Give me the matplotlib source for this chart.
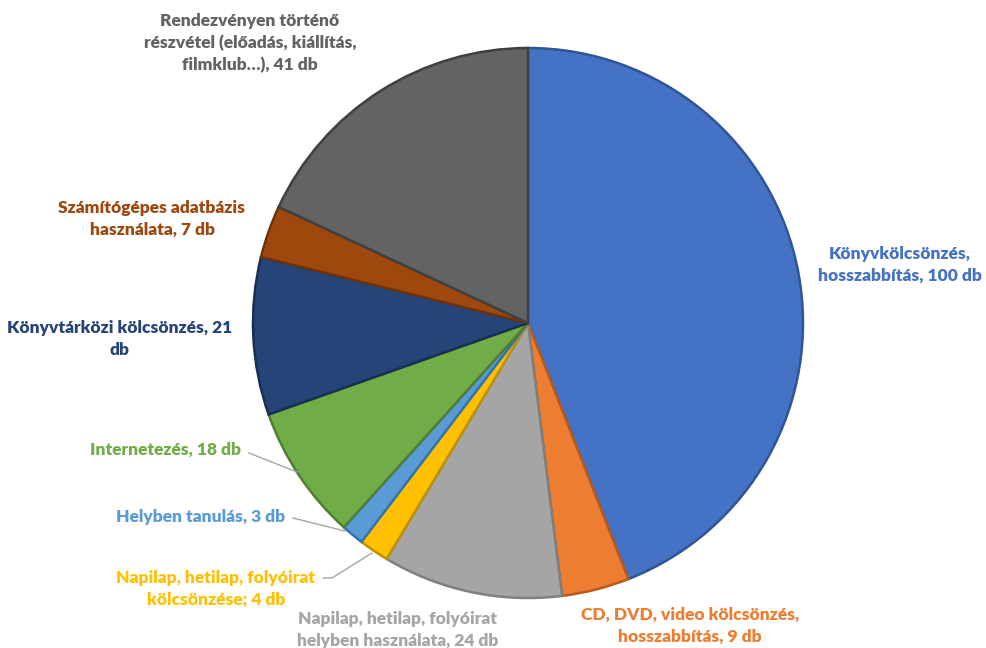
import matplotlib.pyplot as plt

# slice data (clockwise from 12 o'clock)
labels = [
    "Könyvkölcsönzés,\nhosszabbítás, 100 db",
    "CD, DVD, video kölcsönzés,\nhosszabbítás, 9 db",
    "Napilap, hetilap, folyóirat\nhelyben használata, 24 db",
    "Napilap, hetilap, folyóirat\nkölcsönzése; 4 db",
    "Helyben tanulás, 3 db",
    "Internetezés, 18 db",
    "Könyvtárközi kölcsönzés, 21\ndb",
    "Számítógépes adatbázis\nhasználata, 7 db",
    "Rendezvényen történő\nrészvétel (előadás, kiállítás,\nfilmklub…), 41 db",
]
values = [100, 9, 24, 4, 3, 18, 21, 7, 41]
colors = ["#4472C4", "#ED7D31", "#A5A5A5", "#FFC000", "#5B9BD5",
          "#70AD47", "#264478", "#9E480E", "#636363"]
edges = ["#2F5597", "#B85A1B", "#7F7F7F", "#BF9000", "#2E75B6",
         "#507E32", "#1A2F54", "#6E320A", "#404040"]

# label anchor points (pixel coords, from top-left)
label_pos = [(900, 265), (690, 626), (398, 630), (216, 589), (201, 517),
             (166, 450), (120, 339), (152, 219), (250, 43)]
leaders = {
    3: [(323, 578), (332, 578), (372, 553)],
    4: [(293, 518), (345, 531)],
    5: [(249, 453), (297, 472)],
}

plt.rcParams['font.family'] = ['Lato', 'DejaVu Sans']

W, H = 987, 648
fig = plt.figure(figsize=(W / 100, H / 100), dpi=100)
ax = fig.add_axes([0, 0, 1, 1])

cx, cy, r = 528, H - 323, 275
wedges, _ = ax.pie(values, colors=colors, startangle=90, counterclock=False,
                   center=(cx, cy), radius=r, frame=True,
                   wedgeprops=dict(linewidth=1.8))
for w, ec in zip(wedges, edges):
    w.set_edgecolor(ec)
ax.set_xlim(0, W)
ax.set_ylim(0, H)
ax.set_aspect('equal')
ax.axis('off')

for i, (txt, (x, y)) in enumerate(zip(labels, label_pos)):
    ax.text(x, H - y, txt, ha='center', va='center', fontsize=12.5,
            fontweight='heavy', color=colors[i], linespacing=1.45)

for i, pts in leaders.items():
    xs = [p[0] for p in pts]
    ys = [H - p[1] for p in pts]
    ax.plot(xs, ys, color='#A6A6A6', lw=1)

fig.savefig('out.png', dpi=100)
